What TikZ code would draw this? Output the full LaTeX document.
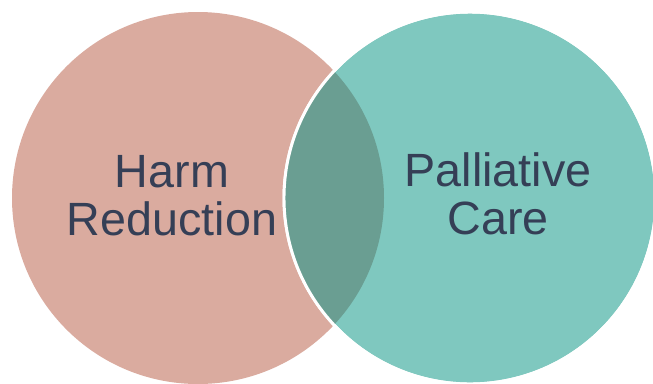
\documentclass[tikz,border=0pt]{standalone}
\usepackage{fontspec}
\setmainfont{Liberation Sans}
\usepackage{tikz}
\definecolor{salmon}{RGB}{218,171,159}
\definecolor{teal2}{RGB}{127,200,191}
\definecolor{lens}{RGB}{106,158,146}
\definecolor{ink}{RGB}{53,63,86}

\begin{document}
\begin{tikzpicture}[x=0.75pt, y=-0.75pt]

\tikzstyle{label}=[align=center, text=ink, font=\fontsize{35}{36}\selectfont, inner sep=0pt]

\useasboundingbox (0,0) rectangle (653,383);
\clip (0,0) rectangle (653,383);

% the two sets
\fill [salmon] (198,198) circle (186);
\fill [teal2, draw=white, line width=2.2pt] (470,198) circle (186);

% overlap
\begin{scope}
\clip (470,198) circle (186);
\fill [lens] (198,198) circle (186);
\end{scope}
\draw [white, line width=2.2pt] (470,198) circle (186);

\node (A) [label] at (172,196) {Harm\\Reduction};
\node (B) [label] at (498,194) {Palliative\\Care};

\end{tikzpicture}
\end{document}
